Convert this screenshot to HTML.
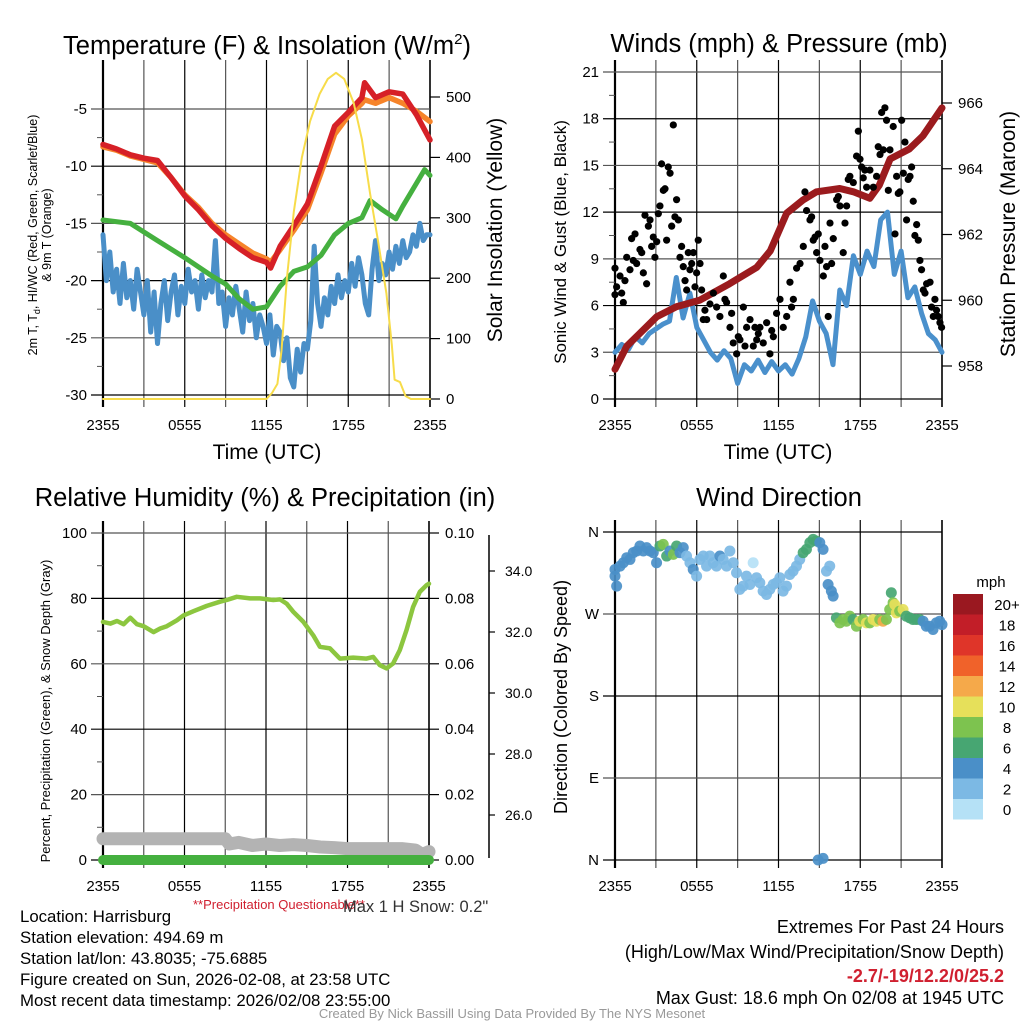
<!DOCTYPE html>
<html><head><meta charset="utf-8"><style>
html,body{margin:0;padding:0;background:#fff;}
svg{display:block;font-family:"Liberation Sans",sans-serif;}
</style></head><body>
<svg id="chart" width="1024" height="1024" viewBox="0 0 1024 1024" xmlns="http://www.w3.org/2000/svg">
<rect x="0" y="0" width="1024" height="1024" fill="#fff"/>
<g id="layer"></g>
<text x="267" y="54" font-size="25.5" text-anchor="middle">Temperature (F) &amp; Insolation (W/m<tspan dy="-10" font-size="15">2</tspan><tspan dy="10">)</tspan></text>
<text x="779" y="52" font-size="25.5" text-anchor="middle">Winds (mph) &amp; Pressure (mb)</text>
<text x="265" y="506" font-size="25.5" text-anchor="middle">Relative Humidity (%) &amp; Precipitation (in)</text>
<text x="779" y="506" font-size="25.5" text-anchor="middle">Wind Direction</text>
<text x="267" y="459" font-size="21" text-anchor="middle">Time (UTC)</text>
<text x="778" y="459" font-size="21" text-anchor="middle">Time (UTC)</text>
<text transform="translate(37,235) rotate(-90)" font-size="12.5" text-anchor="middle">2m T, T<tspan font-size="9" dy="3">d</tspan><tspan dy="-3">, HI/WC (Red, Green, Scarlet/Blue)</tspan></text>
<text transform="translate(51,235) rotate(-90)" font-size="12.5" text-anchor="middle">&amp; 9m T (Orange)</text>
<text transform="translate(502,230) rotate(-90)" font-size="21" text-anchor="middle">Solar Insolation (Yellow)</text>
<text transform="translate(566,242) rotate(-90)" font-size="17" text-anchor="middle">Sonic Wind &amp; Gust (Blue, Black)</text>
<text transform="translate(1015,234) rotate(-90)" font-size="21" text-anchor="middle">Station Pressure (Maroon)</text>
<text transform="translate(50,711) rotate(-90)" font-size="13" text-anchor="middle">Percent, Precipitation (Green), &amp; Snow Depth (Gray)</text>
<text transform="translate(567,697) rotate(-90)" font-size="18" text-anchor="middle">Direction (Colored By Speed)</text>
<text x="991" y="587" font-size="15" text-anchor="middle">mph</text>
<text x="279" y="909" font-size="13" fill="#d02030" text-anchor="middle">**Precipitation Questionable**</text>
<text x="343" y="912" font-size="16.5" fill="#333">Max 1 H Snow: 0.2"</text>
<g font-size="16.8" fill="#000">
<text x="20" y="922">Location: Harrisburg</text>
<text x="20" y="943">Station elevation: 494.69 m</text>
<text x="20" y="964">Station lat/lon: 43.8035; -75.6885</text>
<text x="20" y="985">Figure created on Sun, 2026-02-08, at 23:58 UTC</text>
<text x="20" y="1006">Most recent data timestamp: 2026/02/08 23:55:00</text>
</g>
<g font-size="18" text-anchor="end">
<text x="1004" y="933">Extremes For Past 24 Hours</text>
<text x="1004" y="958">(High/Low/Max Wind/Precipitation/Snow Depth)</text>
<text x="1004" y="982" fill="#d02030" font-weight="bold">-2.7/-19/12.2/0/25.2</text>
<text x="1004" y="1004">Max Gust: 18.6 mph On 02/08 at 1945 UTC</text>
</g>
<text x="512" y="1018" font-size="13" fill="#999" text-anchor="middle">Created By Nick Bassill Using Data Provided By The NYS Mesonet</text>
</svg>
<script>
// ---------- data ----------
const xTickLabels = ["2355","0555","1155","1755","2355"];
const tempTicks = [-30,-25,-20,-15,-10,-5];
const solarTicks = [0,100,200,300,400,500];
const windTicks = [0,3,6,9,12,15,18,21];
const pressTicks = [958,960,962,964,966];
const rhTicks = [0,20,40,60,80,100];
const precipTicks = ["0.00","0.02","0.04","0.06","0.08","0.10"];
const snowTicks = [26,28,30,32,34];
const dirTickLabels = ["N","E","S","W","N"];
const legendLabels = ["20+","18","16","14","12","10","8","6","4","2","0"];
const legendColors = ["#9a1820","#c21e28","#df3529","#f0622a","#f5a94a","#e6e05a","#7dc34f","#47a672","#4a8fc8","#7cb9e4","#b5e1f6"];

const redHours = [0,1,2,3,4,5,6,7,8,9,10,11,12,12.3,13,14,15,16,17,18,19,19.2,20,21,22,23,24];
const redTemps = [-8.1,-8.5,-9.0,-9.3,-9.5,-11,-12.6,-13.8,-15.2,-16.3,-17.2,-18,-18.4,-18.9,-17,-15.2,-13.3,-10,-6.5,-5.3,-4,-2.7,-4,-3.5,-3.7,-5.5,-7.7];
const orangeTemps = [-8.3,-8.6,-9.1,-9.4,-9.7,-11,-12.5,-13.6,-15.0,-16.0,-16.8,-17.6,-18.1,-18.4,-17.3,-15.6,-13.8,-10.6,-7.2,-5.6,-4.5,-4.2,-4.5,-4.0,-4.5,-5.2,-6.1];
const greenHours = [0,2,4,6,8,9,10,11,12,13,14,15,16,17,18,19,19.6,20.5,21.5,22,23,23.6,24];
const greenTemps = [-14.7,-15,-16.5,-18,-19.6,-20.3,-21.6,-22.5,-22.3,-20.5,-19.2,-18.8,-17.8,-16,-15,-14.5,-13,-13.8,-14.6,-13.5,-11.5,-10.3,-10.8];
const wcTemps = [-16,-20,-17.5,-21,-19,-22,-18.5,-21.5,-20,-22.5,-19,-21,-23,-20,-24.5,-21,-25.5,-22,-20,-23.5,-21,-19.5,-23,-20.5,-22,-19,-21,-20,-22.5,-19.5,-21.5,-20,-21,-16.5,-22,-21,-24,-21.5,-23,-20.5,-22.5,-24.5,-21,-23.5,-22,-25,-23,-24,-25.5,-23,-26.5,-24,-24.5,-27,-25,-28.5,-29.3,-26,-28,-25.5,-26,-23.5,-17,-22,-24,-21.5,-23,-20.5,-22,-19.5,-21.5,-20,-21,-18.5,-20.5,-18,-19.5,-22,-23,-19,-16.5,-20,-18.5,-19.5,-17.5,-19,-17,-18.5,-16.5,-18,-17.5,-16,-17,-15,-16.5,-16,-16];
const solarHours = [0,12,12.4,12.8,13.1,13.5,14,14.6,15.2,15.9,16.5,17.1,17.7,18.4,19,19.6,20.2,20.8,21.2,21.4,21.8,22.2,22.6,24];
const solarValues = [0,0,10,25,80,200,310,400,460,505,530,540,530,490,430,340,260,175,90,32,28,5,0,0];

const pressHours = [0,0.86,3.06,4.5,6.2,8.4,10.4,11.4,12.6,13.8,14.8,16.5,17.5,18.7,19.4,20.2,21.6,22.6,24];
const pressValues = [957.9,958.6,959.5,959.8,960.0,960.5,961.0,961.5,962.65,963.05,963.3,963.4,963.3,963.1,963.5,964.3,964.6,965.0,965.85];
const windValues = [3.0,3.5,3.2,4.0,3.6,4.2,4.5,4.8,5.0,7.8,5.2,6.8,4.6,3.8,3.0,2.5,3.1,2.6,1.0,2.2,1.8,2.5,1.7,2.4,1.8,2.2,1.6,2.6,4.0,6.3,5.0,4.2,2.2,7.0,6.0,9.2,8.0,9.5,8.5,11.5,12.0,8.0,9.5,6.5,7.2,5.5,4.2,3.8,3.0];
const gustHours = [0,0,0.12,0.37,0.49,0.61,0.73,0.86,1.10,1.22,1.34,1.47,1.59,1.83,1.96,2.08,2.20,2.32,2.45,2.57,2.69,2.81,2.93,3.06,3.18,3.30,3.42,3.55,3.67,3.79,3.91,4.04,4.16,4.28,4.40,4.52,4.65,4.77,4.89,5.01,5.14,5.26,5.38,5.50,5.63,5.75,5.87,5.99,6.11,6.24,6.36,6.48,6.60,6.73,6.97,7.22,7.46,7.70,7.95,8.07,8.19,8.44,8.56,8.68,8.93,9.05,9.17,9.42,9.54,9.66,9.91,10.15,10.27,10.40,10.52,10.64,10.88,11.13,11.37,11.50,11.62,11.86,12.11,12.35,12.60,12.84,12.96,13.09,13.33,13.58,13.82,13.94,14.06,14.31,14.43,14.55,14.68,14.80,14.92,15.04,15.29,15.41,15.53,15.65,15.78,15.90,16.02,16.27,16.39,16.51,16.75,16.88,17.00,17.12,17.24,17.49,17.73,17.86,17.98,18.10,18.22,18.34,18.47,18.71,18.96,19.20,19.32,19.45,19.57,19.69,19.81,19.93,20.06,20.18,20.42,20.55,20.67,20.79,20.91,21.04,21.16,21.28,21.40,21.52,21.65,21.77,21.89,22.01,22.14,22.26,22.38,22.50,22.63,22.75,22.87,23.12,23.24,23.36,23.48,23.60,23.72,23.85,23.97];
const gustValues = [8.4,6.7,7.2,7.9,6.8,6.2,7.6,9.1,8.3,10.3,8.9,10.6,8.7,9.6,9.4,8.1,11.8,7.4,11.1,11.5,9.8,10.4,9.1,10.1,11.9,12.4,15.1,13.4,13.5,10.2,14.9,14.5,11.1,17.6,11.7,12.8,11.5,9.1,9.8,8.5,7.6,7.0,9.4,8.3,8.7,9.4,7.2,8.1,10.2,8.7,7.0,5.1,5.7,5.1,6.1,6.8,5.9,5.3,7.9,6.4,6.2,4.6,5.5,3.6,2.9,4.0,3.8,5.9,3.4,4.6,5.1,3.4,4.6,3.8,4.2,4.6,3.6,4.9,2.9,4.4,4.0,5.5,6.4,4.6,5.3,7.5,5.9,6.4,8.4,8.7,9.8,13.3,12.1,11.5,11.7,10.2,10.4,9.4,10.6,8.9,7.9,9.8,8.5,5.3,11.3,8.7,10.3,12.8,13.0,12.4,9.4,11.3,12.4,14.1,14.3,13.9,15.6,17.2,15.4,14.9,14.2,14.7,13.6,14.7,13.6,14.3,16.2,15.7,18.4,16.0,18.7,17.9,13.4,16.0,17.5,10.6,14.3,13.2,13.3,17.9,14.5,16.5,11.5,14.1,14.3,14.9,12.7,10.5,11.2,10.2,8.9,8.3,7.0,6.8,7.4,7.5,5.9,5.3,6.4,5.7,5.3,4.9,4.6];

const rhHours = [0,0.54,1.03,1.52,2.01,2.50,2.99,3.72,4.21,4.70,5.44,5.93,6.66,7.64,8.62,9.11,9.85,10.83,11.56,12.54,13.03,13.52,14.01,14.75,15.48,15.97,16.71,17.44,18.42,19.40,19.89,20.38,20.87,21.36,21.85,22.34,22.83,23.32,23.81,24];
const rhValues = [72.8,72.3,73.1,72.1,74.1,72.1,71.5,69.7,70.8,71.5,73.3,74.8,76.1,77.7,79.0,79.5,80.5,80.0,80.0,79.5,79.7,78.4,75.9,72.8,68.7,65.2,64.7,61.6,61.9,61.6,62.1,59.6,58.6,60.1,64.2,70.3,77.4,82.0,84.0,84.5];
const snowHours = [0,9,9.3,10,11,12,13,14,15,16,17,18,22,23,23.5,24];
const snowValues = [25.22,25.22,25.05,25.1,25.0,25.05,25.0,25.03,25.0,24.95,24.93,24.9,24.9,24.85,24.7,24.8];
const precipHours = [0,24];
const precipValues = [0,0];

const dirHours = [0,0.12,0,0.37,0.61,0.86,1.10,1.34,1.59,1.83,2.08,2.32,2.57,2.81,3.05,3.30,3.54,3.79,4.03,4.28,4.52,4.77,5.01,5.25,5.50,5.74,5.99,6.23,6.48,6.72,6.96,7.21,7.45,7.70,7.94,8.19,8.43,8.68,8.92,9.16,9.41,9.65,9.90,10.14,10.39,10.63,10.87,11.12,11.36,11.61,11.85,12.10,12.34,12.59,12.83,13.07,13.32,13.56,13.81,14.05,14.30,14.54,14.78,15.03,15.27,15.52,15.64,15.76,15.88,16.01,16.25,16.50,16.74,16.98,17.23,17.47,17.72,17.96,18.21,18.45,18.70,18.94,19.18,19.43,19.67,19.92,20.16,20.28,20.41,20.53,20.65,20.89,21.14,21.38,21.63,21.87,22.11,22.36,22.61,22.85,23.09,23.34,23.58,23.83,24,14.91,15.27];
const dirValues = [311.6,300.6,318.9,322.6,326.3,331.8,329.9,337.3,339.1,344.6,339.1,342.8,339.1,337.3,326.3,344.6,346.4,333.6,339.1,335.4,344.6,337.3,342.8,333.6,326.3,318.9,311.6,329.9,333.6,322.6,333.6,326.3,322.6,333.6,329.9,322.6,339.1,326.3,315.3,297.0,300.6,311.6,302.4,326.3,309.8,304.3,295.1,291.4,297.0,302.4,304.3,309.8,295.1,300.6,313.4,317.1,322.6,329.9,337.3,340.9,348.3,351.9,350.1,348.3,340.9,317.1,302.4,322.6,295.1,289.6,265.8,260.3,264.0,262.1,267.6,264.0,256.6,262.1,264.0,260.3,260.3,264.0,262.1,264.0,262.1,264.0,274.9,293.3,282.3,280.4,271.3,273.1,274.9,267.6,265.8,264.0,264.0,264.0,262.1,256.6,256.6,253.0,260.3,262.1,258.4,0,1.8];
const dirSpeeds = [5,5,5,5,5,5,5,5,5,5,5,5,5,5,5,7,9,7,5,9,7,5,5,3,3,5,3,3,3,3,3,3,3,5,3,3,3,3,3,3,3,3,3,1,3,3,3,3,3,3,3,3,3,3,3,3,3,3,7,7,7,7,7,5,5,3,5,3,5,5,7,9,9,9,9,7,9,11,9,11,9,11,11,9,13,9,9,7,9,11,11,9,11,7,7,7,7,7,5,5,5,5,5,5,5,5,5];

// ---------- helpers ----------
const NS = "http://www.w3.org/2000/svg";
const layer = document.getElementById("layer");
function mk(tag, attrs, parent){
  const e = document.createElementNS(NS, tag);
  for (const k in attrs) e.setAttribute(k, attrs[k]);
  (parent||layer).appendChild(e);
  return e;
}
function lin(d0,d1,r0,r1){ return v => r0 + (v-d0)*(r1-r0)/(d1-d0); }

const P1 = {x0:103,x1:430,y0:72,y1:399};
const P2 = {x0:615,x1:942,y0:72,y1:399};
const P3 = {x0:103,x1:429,y0:533,y1:860};
const P4 = {x0:615,x1:942,y0:532,y1:860};

const x1s = lin(0,24,P1.x0,P1.x1), x2s = lin(0,24,P2.x0,P2.x1), x3s = lin(0,24,P3.x0,P3.x1), x4s = lin(0,24,P4.x0,P4.x1);
const tempY = lin(-30,-5,395,109);
const solarY = lin(0,500,399,97);
const windY = lin(0,21,399,72);
const pressY = lin(958,966,366,103);
const rhY = lin(0,100,860,533);
const snowY = lin(26,34,815,571);
const dirY = lin(0,360,860,532);

function frame(P, xs, name){
  const g = mk("g",{});
  
  
  for (let h=0; h<=24; h+=3){
    const x = xs(h);
    const l = mk("line",{x1:x,x2:x,y1:P.y0-12,y2:P.y1+8,stroke:(h%6===0)?"#000":"#555","stroke-width":1.2},g);
    
    
  }
  for (let i=0;i<xTickLabels.length;i++){
    const t = mk("text",{x:xs(i*6),y:P.y1+31,"font-size":15,"text-anchor":"middle"},g);
    t.textContent = xTickLabels[i];
    
    
  }
  const b = mk("line",{x1:P.x0,x2:P.x0,y1:P.y0-12,y2:P.y1+8,stroke:"#000","stroke-width":2.2},g);
  
  
  const r = mk("line",{x1:P.x1,x2:P.x1,y1:P.y0-12,y2:P.y1+8,stroke:"#000","stroke-width":1.5},g);
  
  
}
function hgrid(P, vals, ys, labels, side, name, minor){
  for (let i=0;i<vals.length;i++){
    const y = ys(vals[i]);
    const l = mk("line",{x1:P.x0-12,x2:P.x1,y1:y,y2:y,stroke:i%2?"#555":"#000","stroke-width":1.2});
    
    
    const t = mk("text",{x:P.x0-16,y:y+5,"font-size":15,"text-anchor":"end"});
    t.textContent = labels[i];
    
    
  }
  if (minor){
    for (let i=0;i<vals.length-1;i++){
      const y = (ys(vals[i])+ys(vals[i+1]))/2;
      const m = mk("line",{x1:P.x0-6,x2:P.x0,y1:y,y2:y,stroke:"#555","stroke-width":1});
      
      
    }
  }
}
function rightAxis(x, vals, ys, labels, name, dx){
  for (let i=0;i<vals.length;i++){
    const y = ys(vals[i]);
    const l = mk("line",{x1:x,x2:x+10,y1:y,y2:y,stroke:"#000","stroke-width":1.2});
    
    
    const t = mk("text",{x:x+(dx||14),y:y+5,"font-size":15,"text-anchor":"start"});
    t.textContent = labels[i];
    
    
  }
}
function path(hs, vs, xs, ys, color, w, name){
  let d = "";
  for (let i=0;i<hs.length;i++) d += (i?"L":"M") + xs(hs[i]).toFixed(1) + "," + ys(vs[i]).toFixed(1);
  const p = mk("path",{d:d,fill:"none",stroke:color,"stroke-width":w,"stroke-linejoin":"round","stroke-linecap":"round"});
  
  
  return p;
}

// ---------- panel 1 ----------
frame(P1, x1s, "temp");
hgrid(P1, tempTicks, tempY, tempTicks.map(String), "left", "temp", true);
rightAxis(P1.x1, solarTicks, solarY, solarTicks.map(String), "solar", 16);
const wcHours = wcTemps.map((_,i)=>i*0.25);
path(wcHours, wcTemps, x1s, tempY, "#4a8fc8", 5, "windchill-line");
path(greenHours, greenTemps, x1s, tempY, "#45b03f", 5, "dewpoint-line");
path(redHours, orangeTemps, x1s, tempY, "#f6842a", 5.5, "temp-9m-line");
path(redHours, redTemps, x1s, tempY, "#d62027", 5.5, "temp-2m-line");
path(solarHours, solarValues, x1s, solarY, "#f7dc4a", 2, "solar-line");

// ---------- panel 2 ----------
frame(P2, x2s, "winds");
hgrid(P2, windTicks, windY, windTicks.map(String), "left", "winds", true);
rightAxis(P2.x1, pressTicks, pressY, pressTicks.map(String), "pressure", 16);
const windHours = windValues.map((_,i)=>i*0.5);
path(windHours, windValues, x2s, windY, "#4a90cc", 5, "wind-speed-line");
path(pressHours, pressValues, x2s, pressY, "#9b1b1e", 7, "pressure-line");
for (let i=0;i<gustHours.length;i++){
  const c = mk("circle",{cx:x2s(gustHours[i]),cy:windY(gustValues[i]),r:3.6,fill:"#000"});
  
  
}

// ---------- panel 3 ----------
frame(P3, x3s, "humidity");
hgrid(P3, rhTicks, rhY, rhTicks.map(String), "left", "humidity", true);
rightAxis(P3.x1, rhTicks, rhY, precipTicks, "precip", 16);
const snowAxis = mk("line",{x1:489,x2:489,y1:535,y2:858,stroke:"#000","stroke-width":1.5});


for (let i=0;i<snowTicks.length;i++){
  const y = snowY(snowTicks[i]);
  const l = mk("line",{x1:489,x2:495,y1:y,y2:y,stroke:"#000","stroke-width":1.2});
  
  
  const t = mk("text",{x:505,y:y+5,"font-size":14});
  t.textContent = snowTicks[i].toFixed(1);
  
  
}
path(snowHours, snowValues, x3s, snowY, "#b3b3b3", 13, "snow-depth-line");
path(precipHours, precipValues, x3s, rhY, "#45b03f", 10, "precip-line");
path(rhHours, rhValues, x3s, rhY, "#8cc63f", 4.5, "humidity-line");

// ---------- panel 4 ----------
frame(P4, x4s, "direction");
const dirTickVals = [0,90,180,270,360];
hgrid(P4, dirTickVals, dirY, dirTickLabels, "left", "direction", false);
function speedColor(s){ let idx = Math.min(10, Math.floor(s/2)); return legendColors[10-idx]; }
for (let i=0;i<dirHours.length;i++){
  const c = mk("circle",{cx:x4s(dirHours[i]),cy:dirY(dirValues[i]),r:5.5,fill:speedColor(dirSpeeds[i]),"fill-opacity":0.92});
  
  
}
for (let i=0;i<legendLabels.length;i++){
  const y = 594 + i*20.5;
  const r = mk("rect",{x:953,y:y,width:30,height:20.5,fill:legendColors[i]});
  
  
  const t = mk("text",{x:1007,y:y+16,"font-size":15,"text-anchor":"middle"});
  t.textContent = legendLabels[i];
  
  
}
</script>
</body></html>
